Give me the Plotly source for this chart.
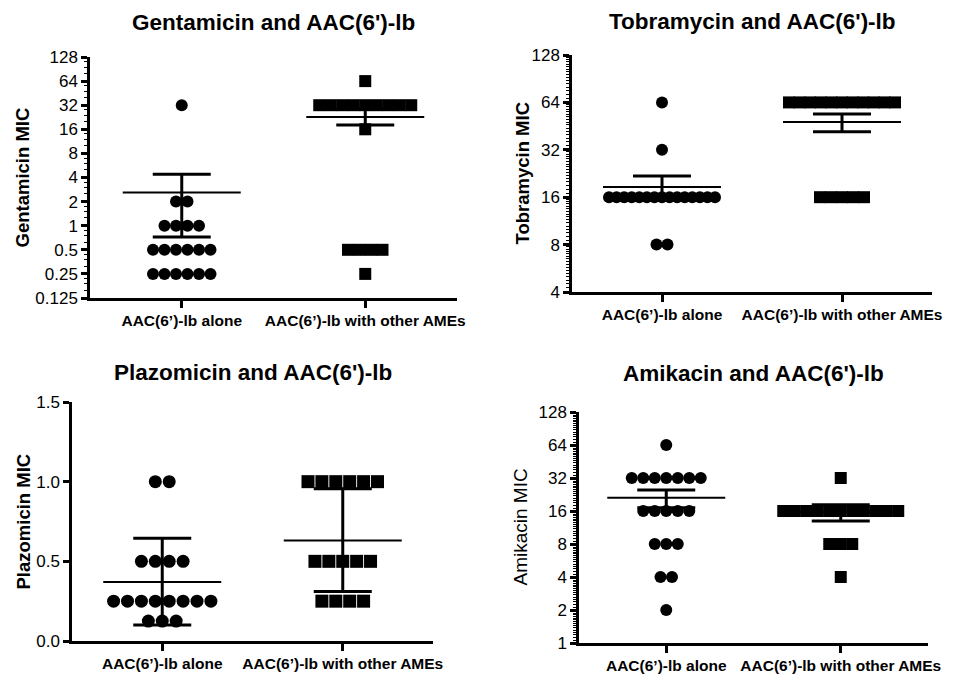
import math
import plotly.graph_objects as go

W, H = 973, 677
OFF = 8  # page body margin in the browser

CATEGORIES = ["AAC(6’)-lb alone", "AAC(6’)-lb with other AMEs"]

# ---------------- data (MIC value -> number of isolates) ----------------
gent_alone_vals = [32, 2, 1, 0.5, 0.25]
gent_alone_counts = [1, 2, 4, 6, 6]
gent_other_vals = [64, 32, 16, 0.5, 0.25]
gent_other_counts = [1, 9, 1, 4, 1]
gent_mean = [2.6, 22.8]
gent_low = [0.72, 18.1]
gent_high = [4.4, 28.7]

tobra_alone_vals = [64, 32, 16, 8]
tobra_alone_counts = [1, 1, 15, 2]
tobra_other_vals = [64, 16]
tobra_other_counts = [11, 5]
tobra_mean = [18.6, 48.1]
tobra_low = [15.6, 41.6]
tobra_high = [21.8, 54.0]

plazo_alone_vals = [1.0, 0.5, 0.25, 0.125]
plazo_alone_counts = [2, 4, 8, 3]
plazo_other_vals = [1.0, 0.5, 0.25]
plazo_other_counts = [6, 5, 4]
plazo_mean = [0.37, 0.63]
plazo_low = [0.10, 0.31]
plazo_high = [0.645, 0.955]

amik_alone_vals = [64, 32, 16, 8, 4, 2]
amik_alone_counts = [1, 7, 5, 3, 2, 1]
amik_other_vals = [32, 16, 8, 4]
amik_other_counts = [1, 11, 3, 1]
amik_mean = [21.1, 15.7]
amik_low = [17.1, 13.0]
amik_high = [24.9, 18.2]

gent_ticks = [0.125, 0.25, 0.5, 1, 2, 4, 8, 16, 32, 64, 128]
gent_ticktext = ["0.125", "0.25", "0.5", "1", "2", "4", "8", "16", "32", "64", "128"]
tobra_ticks = [4, 8, 16, 32, 64, 128]
tobra_ticktext = ["4", "8", "16", "32", "64", "128"]
plazo_ticks = [0, 0.5, 1.0, 1.5]
plazo_ticktext = ["0.0", "0.5", "1.0", "1.5"]
amik_ticks = [1, 2, 4, 8, 16, 32, 64, 128]
amik_ticktext = ["1", "2", "4", "8", "16", "32", "64", "128"]

FONT = "Liberation Sans, Arial, sans-serif"


def minor_vals(majors, steps):
    out = []
    for a, b in zip(majors[:-1], majors[1:]):
        for k in range(1, steps):
            out.append(a + (b - a) * k / steps)
    return out


def fx(px):
    return (px - OFF) / W


def fy(py):
    return 1 - (py - OFF) / H


panels = [
    dict(title="Gentamicin and AAC(6')-lb", ytitle="Gentamicin MIC", ybold=True,
         box=(90, 457, 57, 298), ty=22, ytype="log", yr=(0.125, 128),
         ticks=gent_ticks, ticktext=gent_ticktext, minor=4,
         groups=[(gent_alone_vals, gent_alone_counts), (gent_other_vals, gent_other_counts)],
         mean=gent_mean, low=gent_low, high=gent_high, sp=11.5, span=112, ms=12, ytx=22),
    dict(title="Tobramycin and AAC(6')-lb", ytitle="Tobramycin MIC", ybold=True,
         box=(572, 932, 55, 292), ty=21, ytype="log", yr=(4, 128),
         ticks=tobra_ticks, ticktext=tobra_ticktext, minor=16,
         groups=[(tobra_alone_vals, tobra_alone_counts), (tobra_other_vals, tobra_other_counts)],
         mean=tobra_mean, low=tobra_low, high=tobra_high, sp=11.0, span=106, ms=12, ytx=522),
    dict(title="Plazomicin and AAC(6')-lb", ytitle="Plazomicin MIC", ybold=True,
         box=(72, 433, 402, 641), ty=372, ytype="linear", yr=(0, 1.5),
         ticks=plazo_ticks, ticktext=plazo_ticktext, minor=0,
         groups=[(plazo_alone_vals, plazo_alone_counts), (plazo_other_vals, plazo_other_counts)],
         mean=plazo_mean, low=plazo_low, high=plazo_high, sp=13.9, span=110, ms=13, ytx=23),
    dict(title="Amikacin and AAC(6')-lb", ytitle="Amikacin MIC", ybold=False,
         box=(579, 928, 412, 643), ty=373, ytype="log", yr=(1, 128),
         ticks=amik_ticks, ticktext=amik_ticktext, minor=16,
         groups=[(amik_alone_vals, amik_alone_counts), (amik_other_vals, amik_other_counts)],
         mean=amik_mean, low=amik_low, high=amik_high, sp=11.5, span=116, ms=12, ytx=520),
]

fig = go.Figure()
layout = dict(width=W, height=H, margin=dict(l=0, r=0, t=0, b=0, autoexpand=False),
              paper_bgcolor="white", plot_bgcolor="white", showlegend=False,
              annotations=[])

XR = (-0.5, 1.5)
symbols = ["circle", "square"]

for i, p in enumerate(panels, start=1):
    x0, x1, y0, y1 = p["box"]
    ppu = (x1 - x0) / (XR[1] - XR[0])
    xa = "x" if i == 1 else f"x{i}"
    ya = "y" if i == 1 else f"y{i}"
    xk = "xaxis" if i == 1 else f"xaxis{i}"
    yk = "yaxis" if i == 1 else f"yaxis{i}"

    # points
    for g, (vals, counts) in enumerate(p["groups"]):
        xs, ys = [], []
        for v, n in zip(vals, counts):
            sp = p["sp"] if n < 2 else min(p["sp"], p["span"] / (n - 1))
            for k in range(n):
                xs.append(g + (k - (n - 1) / 2) * sp / ppu)
                ys.append(v)
        fig.add_trace(go.Scatter(x=xs, y=ys, mode="markers", xaxis=xa, yaxis=ya,
                                 marker=dict(symbol=symbols[g], size=p["ms"], color="black",
                                             line=dict(width=0)),
                                 cliponaxis=False, hoverinfo="y"))

    # mean line and error bars
    mh = 59 / ppu
    ch = 29 / ppu
    mx, my, ex, ey = [], [], [], []
    for g in range(2):
        m, lo, hi = p["mean"][g], p["low"][g], p["high"][g]
        mx += [g - mh, g + mh, None]
        my += [m, m, None]
        ex += [g, g, None, g - ch, g + ch, None, g - ch, g + ch, None]
        ey += [lo, hi, None, lo, lo, None, hi, hi, None]
    fig.add_trace(go.Scatter(x=mx, y=my, mode="lines", xaxis=xa, yaxis=ya,
                             line=dict(color="black", width=2), hoverinfo="skip"))
    fig.add_trace(go.Scatter(x=ex, y=ey, mode="lines", xaxis=xa, yaxis=ya,
                             line=dict(color="black", width=3), hoverinfo="skip"))

    layout[xk] = dict(domain=[fx(x0), fx(x1)], anchor=ya, range=list(XR),
                      tickvals=[0, 1], ticktext=CATEGORIES, showline=True,
                      linecolor="black", linewidth=2.5, ticks="outside", ticklen=7,
                      tickwidth=2.5, tickcolor="black", showgrid=False, zeroline=False,
                      tickfont=dict(family=FONT, size=15.5, color="black", weight="bold"),
                      automargin=False, fixedrange=True)
    if p["ytype"] == "log":
        yrng = [math.log10(p["yr"][0]), math.log10(p["yr"][1])]
    else:
        yrng = list(p["yr"])
    ydict = dict(domain=[fy(y1), fy(y0)], anchor=xa, type=p["ytype"], range=yrng,
                 tickmode="array", tickvals=p["ticks"], ticktext=p["ticktext"],
                 showline=True, linecolor="black", linewidth=2.5, ticks="outside",
                 ticklen=6, tickwidth=2.5, tickcolor="black", showgrid=False,
                 zeroline=False, tickfont=dict(family=FONT, size=17, color="black"),
                 automargin=False, fixedrange=True)
    if p["minor"]:
        ydict["minor"] = dict(tickmode="array", tickvals=minor_vals(p["ticks"], p["minor"]),
                              ticks="outside", ticklen=3, tickwidth=1, tickcolor="black",
                              showgrid=False)
    layout[yk] = ydict

    # panel title
    layout["annotations"].append(dict(
        text=p["title"], xref="paper", yref="paper", x=fx((x0 + x1) / 2),
        y=fy(p["ty"]), xanchor="center", yanchor="middle", showarrow=False,
        font=dict(family=FONT, size=22.5, color="black", weight="bold")))
    # y title
    layout["annotations"].append(dict(
        text=p["ytitle"], xref="paper", yref="paper", x=fx(p["ytx"]),
        y=fy((y0 + y1) / 2), xanchor="center", yanchor="middle", showarrow=False,
        textangle=-90,
        font=dict(family=FONT, size=19 if not p["ybold"] else 18.5, color="black",
                  weight="bold" if p["ybold"] else "normal")))

fig.update_layout(**layout)
fig.write_html("out.html")
